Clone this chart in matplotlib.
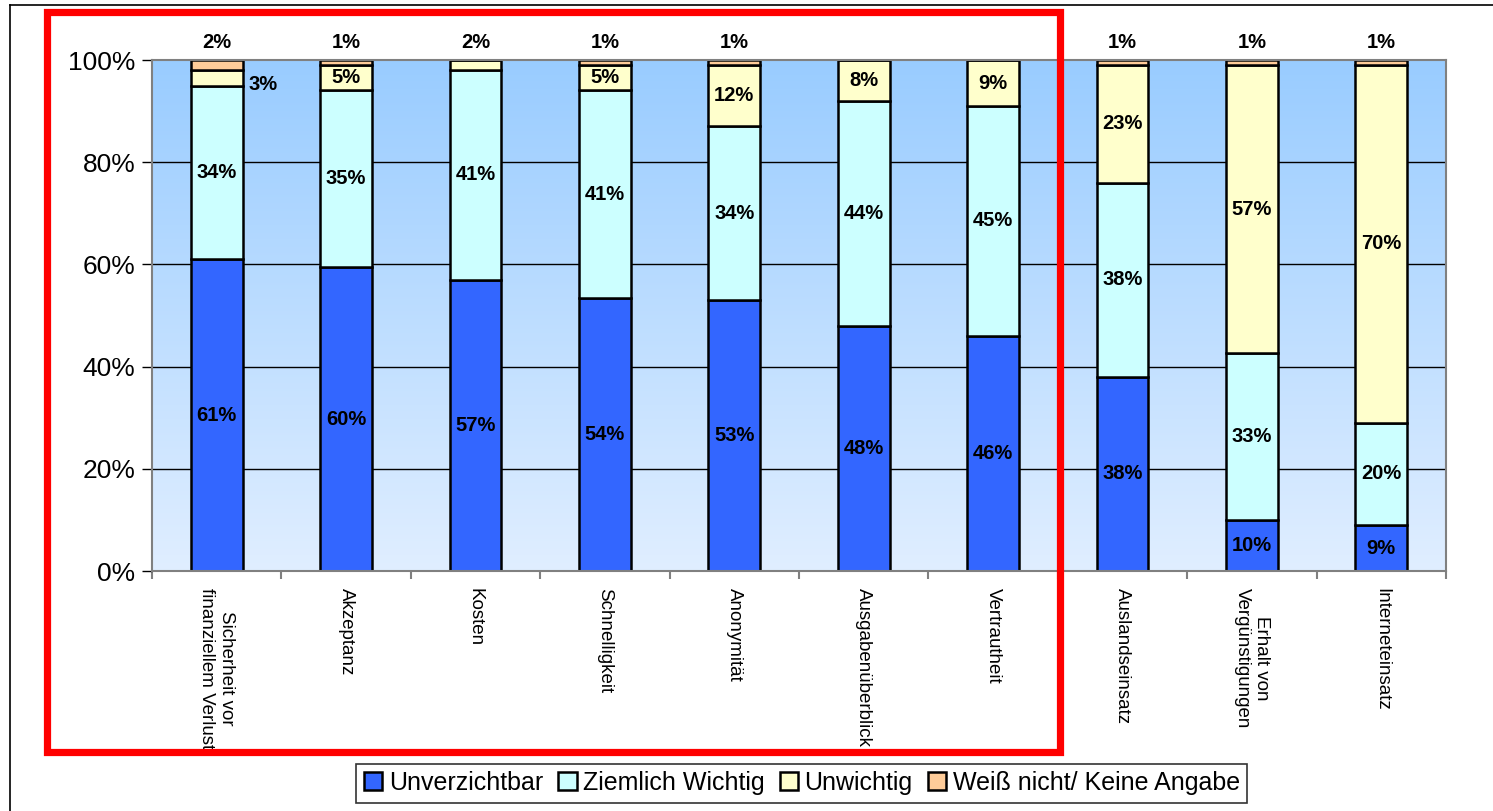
import matplotlib
matplotlib.use("Agg")
import matplotlib.pyplot as plt
import numpy as np
from matplotlib.colors import LinearSegmentedColormap
from matplotlib.patches import Rectangle
from matplotlib.lines import Line2D

plt.rcParams['font.family'] = ['Liberation Sans', 'DejaVu Sans']

categories = ["Sicherheit vor\nfinanziellem Verlust", "Akzeptanz", "Kosten",
              "Schnelligkeit", "Anonymität", "Ausgabenüberblick", "Vertrautheit",
              "Auslandseinsatz", "Erhalt von\nVergünstigungen", "Interneteinsatz"]
series_names = ["Unverzichtbar", "Ziemlich Wichtig", "Unwichtig",
                "Weiß nicht/ Keine Angabe"]
unverzichtbar = [61, 60, 57, 54, 53, 48, 46, 38, 10, 9]
ziemlich_wichtig = [34, 35, 41, 41, 34, 44, 45, 38, 33, 20]
unwichtig = [3, 5, 2, 5, 12, 8, 9, 23, 57, 70]
weiss_nicht = [2, 1, 0, 1, 1, 0, 0, 1, 1, 1]
colors = ["#3366FF", "#CCFFFF", "#FFFFCC", "#FFCC99"]

values = np.array([unverzichtbar, ziemlich_wichtig, unwichtig, weiss_nicht], dtype=float)
shares = values / values.sum(axis=0) * 100  # 100 % gestapelt

fig = plt.figure(figsize=(14.93, 8.11), dpi=100)
ax = fig.add_axes([0.1018, 0.2959, 0.8667, 0.6301])

x = np.arange(len(categories))
ax.set_xlim(-0.5, len(categories) - 0.5)
ax.set_ylim(0, 100)

# Hintergrund mit Farbverlauf
cmap = LinearSegmentedColormap.from_list("bg", ["#E0EEFF", "#99CCFF"])
grad = np.linspace(0, 1, 256).reshape(-1, 1)
ax.imshow(grad, cmap=cmap, origin="lower", aspect="auto",
          extent=[-0.5, len(categories) - 0.5, 0, 100], zorder=0)

for yv in [20, 40, 60, 80]:
    ax.axhline(yv, color="black", lw=1, zorder=1)

lab = dict(ha="center", va="center", fontsize=14.5, fontweight="bold")
bottom = np.zeros(len(categories))
for i, name in enumerate(series_names):
    ax.bar(x, shares[i], 0.4, bottom=bottom, color=colors[i], edgecolor="black",
           linewidth=1.8, label=name, zorder=2)
    for j in range(len(categories)):
        v = values[i, j]
        if v == 0:
            continue
        mid = bottom[j] + shares[i, j] / 2
        txt = f"{int(v)}%"
        if i == 3:
            ax.text(x[j], 103.5, txt, clip_on=False, **lab)
        elif v < 4 and values[3, j] > 0:
            ax.text(x[j] + 0.36, 95.3, txt, **lab)
        elif v < 4:
            ax.text(x[j], 103.5, txt, clip_on=False, **lab)
        else:
            ax.text(x[j], mid, txt, zorder=3, **lab)
    bottom += shares[i]

ax.set_yticks([0, 20, 40, 60, 80, 100])
ax.set_yticklabels(["0%", "20%", "40%", "60%", "80%", "100%"], fontsize=19)
ax.tick_params(axis="y", length=7, width=1, pad=5)

ax.set_xticks(x)
ax.set_xticklabels(categories, rotation=270, fontsize=13.5, ha="center",
                   va="top", multialignment="center")
ax.tick_params(axis="x", which="major", length=0, pad=12)
ax.set_xticks(np.arange(-0.5, len(categories), 1), minor=True)
ax.tick_params(axis="x", which="minor", length=6, width=1.5, color="#808080")

for s in ax.spines.values():
    s.set_color("#808080")
    s.set_linewidth(1.5)
    s.set_zorder(4)

leg = fig.legend(loc="center", bbox_to_anchor=(0.537, 0.0345), ncol=4,
                 fontsize=18, frameon=True, fancybox=False, edgecolor="black",
                 handlelength=0.75, handleheight=0.75, handletextpad=0.25,
                 columnspacing=0.6, borderpad=0.3)
leg.get_frame().set_linewidth(1.2)

# Rahmen oben und links
fig.add_artist(Line2D([10 / 1493, 1], [1 - 5 / 811, 1 - 5 / 811],
                      transform=fig.transFigure, color="black", lw=1.2))
fig.add_artist(Line2D([10 / 1493, 10 / 1493], [0, 1 - 5 / 811],
                      transform=fig.transFigure, color="black", lw=1.2))

# rote Markierung
fig.add_artist(Rectangle((47 / 1493, 1 - 752 / 811), (1060 - 47) / 1493,
                         (752 - 12) / 811, transform=fig.transFigure,
                         fill=False, edgecolor="red", lw=5.2, zorder=10))

fig.savefig("out.png", dpi=100)
